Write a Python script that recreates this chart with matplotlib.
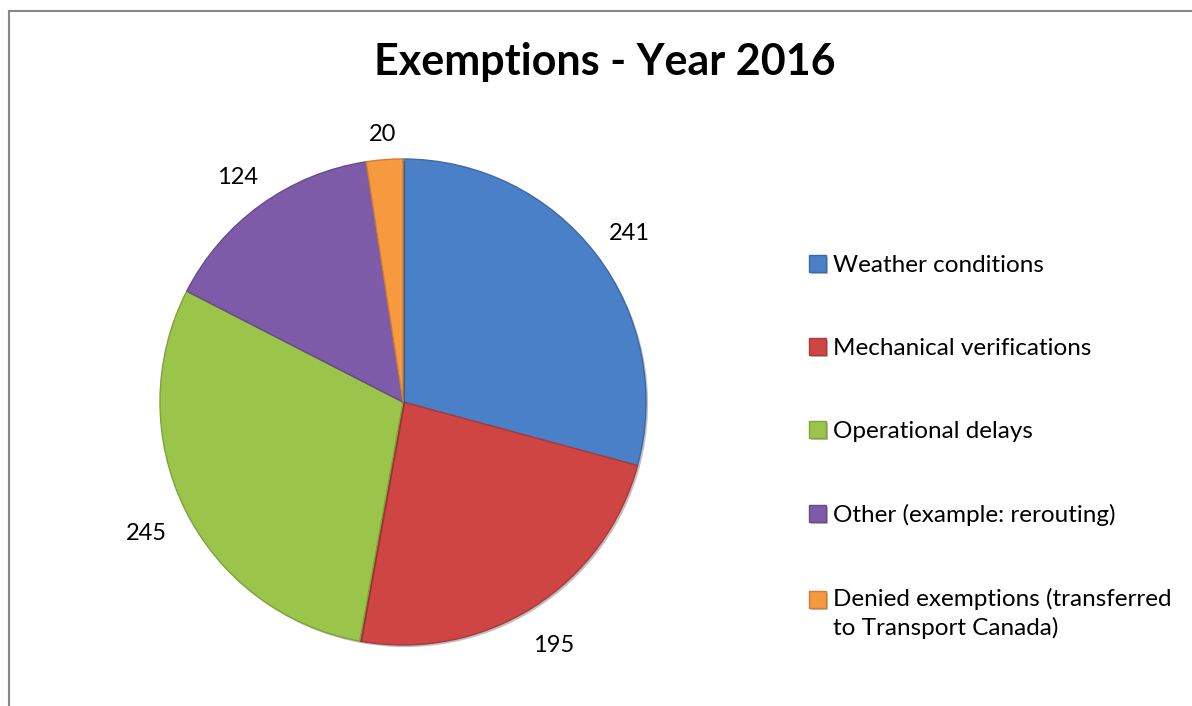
import matplotlib
matplotlib.use("Agg")
import numpy as np
import matplotlib.pyplot as plt
from matplotlib.lines import Line2D
import matplotlib.patheffects as pe
import matplotlib.colors as mcolors

# ---- data ----
categories = [
    "Weather conditions",
    "Mechanical verifications",
    "Operational delays",
    "Other (example: rerouting)",
    "Denied exemptions (transferred\nto Transport Canada)",
]
values = [241, 195, 245, 124, 20]
colors = ["#4A80C8", "#CF4543", "#9BC54A", "#7E5BA9", "#F79A3F"]
title = "Exemptions - Year 2016"

W, H, DPI = 1192, 706, 100
plt.rcParams['font.family'] = ['Lato', 'DejaVu Sans']
fig = plt.figure(figsize=(W / DPI, H / DPI), dpi=DPI)

cx, cy, r = 403, 402, 243
span = 1.5
ax = fig.add_axes([(cx - span * r) / W, (H - cy - span * r) / H,
                   2 * span * r / W, 2 * span * r / H])

def darker(c, f=0.8):
    rgb = mcolors.to_rgb(c)
    return tuple(v * f for v in rgb)

wedges, texts = ax.pie(
    values, colors=colors, startangle=90, counterclock=False, radius=1,
    labels=[str(v) for v in values], labeldistance=1.17,
    textprops=dict(fontsize=17, color="black"),
    wedgeprops=dict(linewidth=1.0),
)
for w, c in zip(wedges, colors):
    w.set_edgecolor(darker(c, 0.82))
    w.set_path_effects([pe.SimplePatchShadow(offset=(1.5, -1.5), shadow_rgbFace="black", alpha=0.25),
                        pe.Normal()])
for t in texts:
    t.set_ha("center")
    t.set_va("center")

ax.set_xlim(-span, span)
ax.set_ylim(-span, span)
ax.axis("off")

fig.text(605 / W, 1 - 62 / H, title, ha="center", va="center",
         fontsize=31, fontweight="bold")

fs = 17.5
leg = fig.legend(
    wedges, categories, loc="upper left",
    bbox_to_anchor=(809 / W, 1 - 255 / H), frameon=False, fontsize=fs,
    handlelength=0.7, handleheight=0.7, handletextpad=0.3,
    labelspacing=2.55, borderpad=0, borderaxespad=0,
)
for t in leg.get_texts():
    t.set_linespacing(1.4)

fig.canvas.draw()
rend = fig.canvas.get_renderer()

# place value labels just outside the pie edge (outside-end style)
gap_px = 21
for w, t in zip(wedges, texts):
    th = np.deg2rad((w.theta1 + w.theta2) / 2)
    bb = t.get_window_extent(rend)
    hw, hh = bb.width / 2, bb.height / 2 * 0.8
    ext = abs(np.cos(th)) * hw + abs(np.sin(th)) * hh
    d = (r + gap_px + ext) / r
    t.set_position((d * np.cos(th), d * np.sin(th) - 5.0 / r))

# move handle of multi-line entry up to align with its first line
h1 = leg.get_texts()[3].get_window_extent(rend).height
h2 = leg.get_texts()[4].get_window_extent(rend).height
hp = leg.legend_handles[4]
hp.set_y(hp.get_y() + (h2 - h1) / 2 * 72 / DPI)

# chart border (top and left visible)
fig.add_artist(Line2D([8.5 / W, 8.5 / W], [0, 1 - 11 / H], transform=fig.transFigure,
                      color="#888888", lw=1.5))
fig.add_artist(Line2D([8.5 / W, 1], [1 - 11 / H, 1 - 11 / H], transform=fig.transFigure,
                      color="#888888", lw=1.5))

fig.savefig("out.png", dpi=DPI)
